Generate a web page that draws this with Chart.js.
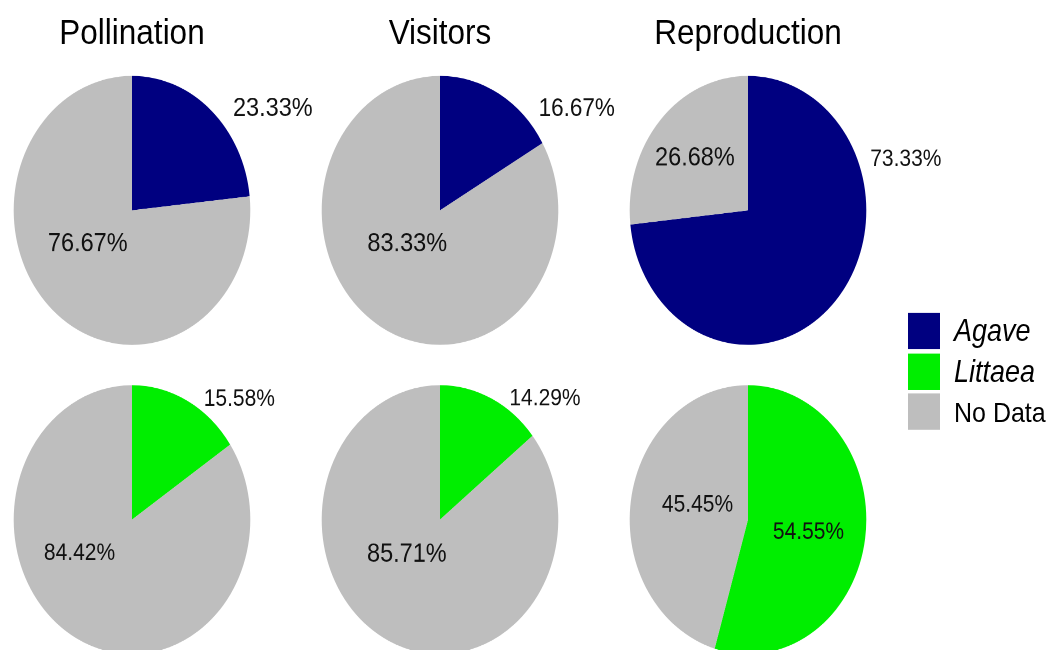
<!DOCTYPE html>
<html>
<head>
<meta charset="utf-8">
<script src="https://cdn.jsdelivr.net/npm/chart.js@4/dist/chart.umd.min.js"></script>
<style>
  html, body { margin: 0; padding: 0; background: #ffffff; width: 1047px; height: 650px; overflow: hidden; }
  #stage { position: absolute; left: 0; top: 0; width: 1047px; height: 572px; transform: scaleY(1.137); transform-origin: 0 0; font-family: "Liberation Sans", Arial, Helvetica, sans-serif; color: #000; }
  .pie { position: absolute; width: 400px; height: 300px; }
  .title { position: absolute; width: 300px; text-align: center; font-size: 31.5px; line-height: 31px; top: 13px; white-space: nowrap; }
  #legend { position: absolute; left: 908px; top: 275px; width: 139px; }
  .lrow { display: flex; align-items: center; height: 32px; margin-bottom: 3.5px; white-space: nowrap; }
  .lkey { width: 32px; height: 32px; flex: 0 0 32px; }
  .ltxt { margin-left: 14px; font-size: 25px; line-height: 26px; white-space: nowrap; }
  .ltxt.it { font-style: italic; font-size: 27px; }
</style>
</head>
<body>
<div id="stage"></div>
<script>
// ---- data ----
const panelTitles = ['Pollination', 'Visitors', 'Reproduction'];
const groupNames = ['Agave', 'Littaea'];
const agaveValues = [23.33, 16.67, 73.33];
const agaveNoData = [76.67, 83.33, 26.68];
const littaeaValues = [15.58, 14.29, 54.55];
const littaeaNoData = [84.42, 85.71, 45.45];
const legendLabels = ['Agave', 'Littaea', 'No Data'];

// ---- style / layout ----
const colors = { Agave: '#000080', Littaea: '#00EE00', 'No Data': '#BEBEBE' };
const colCenters = [132, 440, 748];
const rowCenters = [184.7, 456.9];
const pieRadius = 118.3;
// label placement per panel: [turn from top (clockwise), radius factor, font px] for [group, No Data]
const labelPlacement = [
  [ [[0.160, 1.41, 23.5], [0.656, 0.45, 23.5]],
    [[0.158, 1.38, 22.5], [0.633, 0.373, 23.5]],
    [[0.206, 1.387, 21], [0.864, 0.595, 23.5]] ],
  [ [[0.126, 1.275, 21], [0.668, 0.51, 21]],
    [[0.124, 1.263, 21], [0.632, 0.38, 23.5]],
    [[0.279, 0.52, 21], [0.789, 0.44, 21]] ]
];

const stage = document.getElementById('stage');

const pctLabels = {
  id: 'pctLabels',
  afterDatasetsDraw(chart, args, opts) {
    const meta = chart.getDatasetMeta(0);
    const ds = chart.data.datasets[0];
    const ctx = chart.ctx;
    ctx.save();
    ctx.fillStyle = '#111111';
    ctx.textAlign = 'center';
    ctx.textBaseline = 'middle';
    meta.data.forEach((arc, i) => {
      const p = opts.place[i];
      const theta = -Math.PI / 2 + p[0] * 2 * Math.PI;
      const r = arc.outerRadius * p[1];
      ctx.font = p[2] + 'px "Liberation Sans", Arial, sans-serif';
      ctx.fillText(ds.data[i].toFixed(2) + '%', arc.x + Math.cos(theta) * r, arc.y + Math.sin(theta) * r);
    });
    ctx.restore();
  }
};

function makePie(row, col, groupName, groupVal, noDataVal) {
  const box = document.createElement('div');
  box.className = 'pie';
  box.style.left = (colCenters[col] - 200) + 'px';
  box.style.top = (rowCenters[row] - 150) + 'px';
  const cv = document.createElement('canvas');
  box.appendChild(cv);
  stage.appendChild(box);
  new Chart(cv, {
    type: 'pie',
    data: {
      labels: [groupName, 'No Data'],
      datasets: [{
        data: [groupVal, noDataVal],
        backgroundColor: [colors[groupName], colors['No Data']],
        borderWidth: 0,
        hoverOffset: 0,
        radius: pieRadius
      }]
    },
    options: {
      responsive: true,
      maintainAspectRatio: false,
      devicePixelRatio: 2,
      animation: false,
      events: [],
      radius: pieRadius,
      layout: { padding: 0 },
      plugins: {
        legend: { display: false },
        tooltip: { enabled: false },
        title: { display: false },
        pctLabels: { place: labelPlacement[row][col] }
      }
    },
    plugins: [pctLabels]
  });
}

for (let c = 0; c < 3; c++) {
  makePie(0, c, groupNames[0], agaveValues[c], agaveNoData[c]);
  makePie(1, c, groupNames[1], littaeaValues[c], littaeaNoData[c]);
  const t = document.createElement('div');
  t.className = 'title';
  t.style.left = (colCenters[c] - 150) + 'px';
  t.textContent = panelTitles[c];
  stage.appendChild(t);
}

const legend = document.createElement('div');
legend.id = 'legend';
legendLabels.forEach(name => {
  const row = document.createElement('div');
  row.className = 'lrow';
  const key = document.createElement('div');
  key.className = 'lkey';
  key.style.background = colors[name];
  const txt = document.createElement('div');
  txt.className = 'ltxt' + (name !== 'No Data' ? ' it' : '');
  txt.textContent = name;
  row.appendChild(key);
  row.appendChild(txt);
  legend.appendChild(row);
});
stage.appendChild(legend);
</script>
</body>
</html>
